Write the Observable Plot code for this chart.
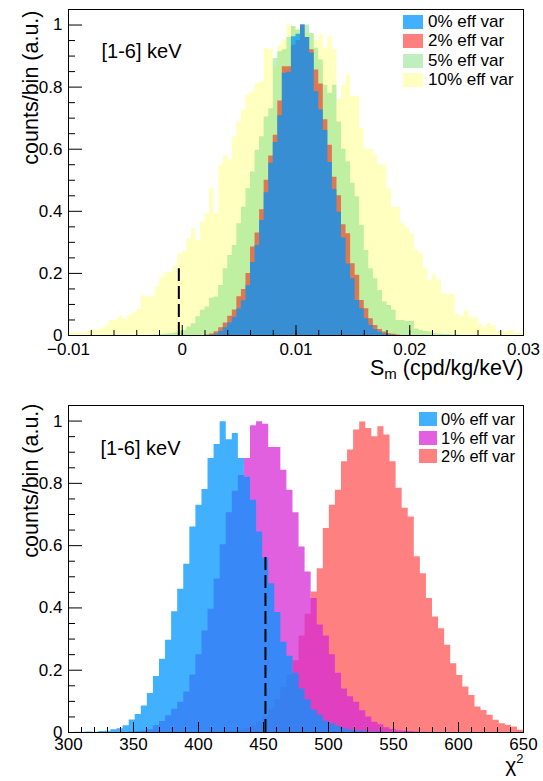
<!DOCTYPE html>
<html><head><meta charset="utf-8">
<script src="https://cdn.jsdelivr.net/npm/d3@7"></script>
<script src="https://cdn.jsdelivr.net/npm/@observablehq/plot@0.6"></script>
<style>
body{margin:0;background:#fff;font-family:"Liberation Sans",Arial,sans-serif;}
#wrap{position:relative;width:543px;height:781px;overflow:hidden;}
.panel{position:absolute;left:0;}
.lg{position:absolute;white-space:nowrap;color:#000;line-height:20px;}
.sw{position:absolute;}
</style></head><body><div id="wrap"></div><script>
// ---------- data ----------
const topRange = [-0.01, 0.03];
const topBins = 100;
const botRange = [300, 650];
const botBins = 75;

const topLabels = ["0% eff var", "2% eff var", "5% eff var", "10% eff var"];
const topColors = ["#0096ff", "#ff0000", "#80e080", "#ffffab"];
const topAlpha = [0.75, 0.5, 0.5, 0.75];
const botLabels = ["0% eff var", "1% eff var", "2% eff var"];
const botColors = ["#0096ff", "#d62bd6", "#ff5656"];
const botAlpha = [0.75, 0.75, 0.75];

// top panel histograms: index of first bin + bin contents
const top0Start = 31;
const top0 = [0.001,0.005,0.013,0.025,0.04,0.058,0.085,0.112,0.16,0.235,0.29,0.37,0.46,0.555,0.622,0.708,0.845,0.848,0.962,0.97,1.0,0.96,0.91,0.785,0.726,0.66,0.557,0.47,0.397,0.314,0.23,0.183,0.113,0.086,0.054,0.032,0.019,0.011,0.005,0.002,0.001];
const top2Start = 30;
const top2 = [0.002,0.005,0.012,0.025,0.04,0.062,0.082,0.125,0.148,0.2,0.285,0.33,0.405,0.5,0.578,0.645,0.755,0.866,0.866,0.935,0.95,1.0,0.96,0.92,0.855,0.81,0.695,0.613,0.51,0.45,0.357,0.328,0.231,0.194,0.113,0.086,0.054,0.032,0.019,0.011,0.006,0.004,0.002];
const top5Start = 18;
const top5 = [0.001,0.002,0.003,0.005,0.006,0.008,0.012,0.016,0.027,0.038,0.06,0.081,0.092,0.12,0.124,0.161,0.215,0.258,0.29,0.36,0.413,0.473,0.527,0.597,0.64,0.704,0.73,0.892,0.914,0.92,0.96,0.995,0.984,1.0,1.0,0.973,0.925,0.887,0.806,0.78,0.806,0.688,0.6,0.559,0.49,0.447,0.355,0.274,0.215,0.183,0.145,0.108,0.097,0.081,0.048,0.048,0.045,0.046,0.021,0.016,0.013,0.011,0.006,0.005,0.003,0.003,0.002,0.002];
const top10Start = 0;
const top10 = [0.011,0.007,0.010,0.008,0.014,0.018,0.018,0.021,0.032,0.048,0.048,0.062,0.052,0.065,0.073,0.084,0.128,0.124,0.126,0.156,0.186,0.202,0.202,0.224,0.262,0.27,0.312,0.344,0.306,0.365,0.392,0.473,0.392,0.548,0.58,0.565,0.64,0.688,0.726,0.774,0.785,0.812,0.817,0.925,0.92,0.866,0.935,0.952,1.0,0.995,0.985,0.99,0.973,0.968,0.95,0.968,0.925,0.962,0.92,0.76,0.806,0.84,0.77,0.77,0.667,0.6,0.6,0.58,0.55,0.55,0.473,0.413,0.413,0.36,0.347,0.328,0.277,0.263,0.217,0.177,0.196,0.177,0.134,0.134,0.132,0.068,0.062,0.08,0.056,0.057,0.036,0.025,0.039,0.031,0.011,0.011,0.014,0.018,0.007,0.009];

// bottom panel histograms
const bot0Start = 1;
const bot0 = [0.001,0.001,0.002,0.001,0.003,0.004,0.009,0.012,0.022,0.04,0.058,0.085,0.125,0.18,0.235,0.296,0.388,0.46,0.54,0.66,0.73,0.78,0.88,0.925,0.998,0.94,0.96,0.88,0.82,0.746,0.644,0.56,0.478,0.385,0.29,0.245,0.19,0.14,0.105,0.072,0.055,0.036,0.028,0.02,0.012,0.008,0.005,0.004,0.002,0.002,0.001];
const bot1Start = 10;
const bot1 = [0.002,0.003,0.005,0.009,0.022,0.035,0.054,0.075,0.097,0.13,0.185,0.25,0.326,0.396,0.493,0.603,0.706,0.775,0.825,0.88,0.985,0.998,0.99,0.915,0.915,0.842,0.778,0.706,0.596,0.515,0.43,0.345,0.31,0.25,0.19,0.14,0.115,0.097,0.07,0.05,0.033,0.025,0.015,0.01,0.006,0.004,0.003,0.002,0.001];
const bot2Start = 22;
const bot2 = [0.001,0.001,0.002,0.003,0.004,0.006,0.009,0.012,0.02,0.033,0.05,0.075,0.105,0.145,0.185,0.23,0.31,0.38,0.451,0.526,0.655,0.73,0.778,0.869,0.907,0.971,0.997,0.976,0.95,0.982,0.955,0.869,0.784,0.72,0.692,0.564,0.51,0.43,0.371,0.333,0.28,0.221,0.183,0.146,0.119,0.082,0.071,0.055,0.039,0.028,0.023,0.018,0.007];

// dashed markers
const topMarker = [{x: -0.0003, top: 0.215}];
const botMarker = [{x: 451.5, top: 0.565}];

// ticks
const yMajor = [0, 0.2, 0.4, 0.6, 0.8, 1];
const yMinor = [0.05,0.1,0.15,0.25,0.3,0.35,0.45,0.5,0.55,0.65,0.7,0.75,0.85,0.9,0.95];
const topXLabels = [-0.01, 0, 0.01, 0.02, 0.03];
const topXMinor = d3.range(-0.01, 0.0301, 0.002);
const botXLabels = [300, 350, 400, 450, 500, 550, 600, 650];
const botXMinor = d3.range(300, 651, 10);

const topTitle = "S_m (cpd/kg/keV)";
const botTitle = "χ2";
const yTitle = "counts/bin (a.u.)";
const energyLabel = "[1-6] keV";

// ---------- helpers ----------
const FONT = "'Liberation Sans', Arial, Helvetica, sans-serif";
function steps(vals, start, range, n) {
  const w = (range[1] - range[0]) / n;
  const pts = vals.map((v, i) => ({x: range[0] + (start + i) * w, y: v}));
  pts.push({x: range[0] + (start + vals.length) * w, y: vals[vals.length - 1]});
  return pts;
}
function area(pts, color, alpha) {
  return Plot.areaY(pts, {x: "x", y1: 0, y2: "y", curve: "step-after", fill: color, fillOpacity: alpha});
}
const yFmt = d => d === 0 ? "0" : d === 1 ? "1" : String(d);
const topFmt = d => d === 0 ? "0" : String(+d.toFixed(2)).replace("-", "\u2212");

const wrap = document.getElementById("wrap");

// ---------- top panel ----------
const tFW = 543 - 68 - 20, tFH = 390 - 9 - 55;
const topPlot = Plot.plot({
  width: 543, height: 390,
  marginLeft: 68, marginRight: 20, marginTop: 9, marginBottom: 55,
  x: {domain: topRange}, y: {domain: [0, 1.05]},
  style: {fontFamily: FONT, fontSize: "17px", color: "#000", background: "transparent", overflow: "visible"},
  marks: [
    area(steps(top10, top10Start, topRange, topBins), topColors[3], topAlpha[3]),
    area(steps(top5, top5Start, topRange, topBins), topColors[2], topAlpha[2]),
    area(steps(top2, top2Start, topRange, topBins), topColors[1], topAlpha[1]),
    area(steps(top0, top0Start, topRange, topBins), topColors[0], topAlpha[0]),
    Plot.ruleX(topMarker, {x: "x", y1: 0, y2: "top", stroke: "#000", strokeWidth: 2, strokeDasharray: "13,5"}),
    Plot.tickY(yMajor, {y: d => d, insetRight: tFW - 14, stroke: "#000"}),
    Plot.tickY(yMinor, {y: d => d, insetRight: tFW - 7, stroke: "#000"}),
    Plot.tickX(topXLabels, {x: d => d, insetTop: tFH - 10, stroke: "#000"}),
    Plot.tickX(topXMinor, {x: d => d, insetTop: tFH - 5, stroke: "#000"}),
    Plot.frame({stroke: "#000"}),
    Plot.axisY(yMajor, {tickSize: 0, tickPadding: 6, tickFormat: yFmt, fontSize: 17, label: null}),
    Plot.axisX(topXLabels, {tickSize: 0, tickPadding: 7, tickFormat: topFmt, fontSize: 17, label: null}),
    Plot.text([yTitle], {text: d => d, frameAnchor: "top-left", rotate: -90, textAnchor: "end", dx: -46, dy: 1, fontSize: 21.5}),
    Plot.text([topTitle], {text: d => d, frameAnchor: "bottom-right", textAnchor: "end", dy: 39, fontSize: 21.5}),
    Plot.text([energyLabel], {text: d => d, frameAnchor: "top-left", textAnchor: "start", dx: 33, dy: 34.5, fontSize: 20})
  ]
});
topPlot.classList.add("panel");
topPlot.style.top = "0px";
wrap.appendChild(topPlot);

// ---------- bottom panel ----------
const bFW = 543 - 68 - 20, bFH = 391 - 15 - 49;
const botPlot = Plot.plot({
  width: 543, height: 391,
  marginLeft: 68, marginRight: 20, marginTop: 15, marginBottom: 49,
  x: {domain: botRange}, y: {domain: [0, 1.05]},
  style: {fontFamily: FONT, fontSize: "17px", color: "#000", background: "transparent", overflow: "visible"},
  marks: [
    area(steps(bot2, bot2Start, botRange, botBins), botColors[2], botAlpha[2]),
    area(steps(bot1, bot1Start, botRange, botBins), botColors[1], botAlpha[1]),
    area(steps(bot0, bot0Start, botRange, botBins), botColors[0], botAlpha[0]),
    Plot.ruleX(botMarker, {x: "x", y1: 0, y2: "top", stroke: "#000", strokeWidth: 2, strokeDasharray: "13,5"}),
    Plot.tickY(yMajor, {y: d => d, insetRight: bFW - 14, stroke: "#000"}),
    Plot.tickY(yMinor, {y: d => d, insetRight: bFW - 7, stroke: "#000"}),
    Plot.tickX(botXLabels, {x: d => d, insetTop: bFH - 10, stroke: "#000"}),
    Plot.tickX(botXMinor, {x: d => d, insetTop: bFH - 5, stroke: "#000"}),
    Plot.frame({stroke: "#000"}),
    Plot.axisY(yMajor, {tickSize: 0, tickPadding: 6, tickFormat: yFmt, fontSize: 17, label: null}),
    Plot.axisX(botXLabels, {tickSize: 0, tickPadding: 5, tickFormat: d => String(d), fontSize: 17, label: null}),
    Plot.text([yTitle], {text: d => d, frameAnchor: "top-left", rotate: -90, textAnchor: "end", dx: -46, dy: -2, fontSize: 21.5}),
    Plot.text([botTitle], {text: d => d, frameAnchor: "bottom-right", textAnchor: "end", dy: 39, fontSize: 21}),
    Plot.text([energyLabel], {text: d => d, frameAnchor: "top-left", textAnchor: "start", dx: 32, dy: 35, fontSize: 20})
  ]
});
botPlot.classList.add("panel");
botPlot.style.top = "390px";
wrap.appendChild(botPlot);

// ---------- rich text (subscript / superscript) ----------
d3.select(topPlot).selectAll("text").filter(function() { return this.textContent === topTitle; }).each(function() {
  const t = d3.select(this); t.text(null);
  t.append("tspan").text("S");
  t.append("tspan").attr("font-size", "15px").attr("dy", "4").text("m");
  t.append("tspan").attr("dy", "-4").text(" (cpd/kg/keV)");
});
d3.select(botPlot).selectAll("text").filter(function() { return this.textContent === botTitle; }).each(function() {
  const t = d3.select(this); t.text(null);
  t.append("tspan").text("χ");
  t.append("tspan").attr("font-size", "13px").attr("dy", "-9").text("2");
});

// ---------- legends ----------
function legend(labels, colors, alphas, top, swX, swW, swH, gap, txtX, fs) {
  labels.forEach((lab, i) => {
    const y = top + i * gap;
    const sw = document.createElement("div");
    sw.className = "sw";
    Object.assign(sw.style, {left: swX + "px", top: y + "px", width: swW + "px", height: swH + "px", background: colors[i], opacity: alphas[i]});
    wrap.appendChild(sw);
    const tx = document.createElement("div");
    tx.className = "lg";
    Object.assign(tx.style, {left: txtX + "px", top: (y + swH / 2 - 10) + "px", fontSize: fs + "px"});
    tx.textContent = lab;
    wrap.appendChild(tx);
  });
}
legend(topLabels, topColors, topAlpha, 15, 403, 20, 14, 19.3, 428, 17);
legend(botLabels, botColors, botAlpha, 412, 419, 18, 14, 18.7, 441, 16.5);
</script></body></html>
